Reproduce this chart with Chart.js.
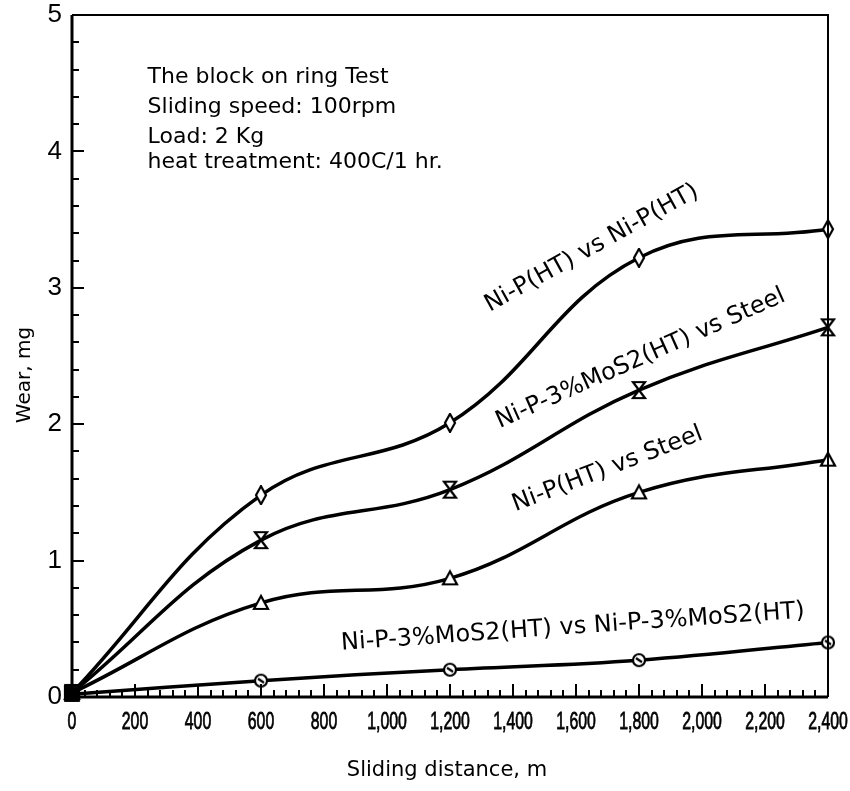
<!DOCTYPE html>
<html>
<head>
<meta charset="utf-8">
<script src="https://cdn.jsdelivr.net/npm/chart.js@4.4.0/dist/chart.umd.min.js"></script>
<style>
  html, body { margin: 0; padding: 0; background: #fff; }
  #wrap { width: 850px; height: 791px; position: relative; }
</style>
</head>
<body>
<div id="wrap"><canvas id="chart"></canvas></div>
<script>
// ====== Wear vs sliding distance (block on ring) ======
const distances = [0, 600, 1200, 1800, 2400];
const wearNiPvsNiP = [0.03, 1.48, 2.01, 3.22, 3.43];
const wearMoS2vsSteel = [0.03, 1.15, 1.52, 2.25, 2.71];
const wearNiPvsSteel = [0.03, 0.69, 0.87, 1.50, 1.74];
const wearMoS2vsMoS2 = [0.02, 0.12, 0.20, 0.27, 0.40];

const seriesNames = [
  'Ni-P(HT) vs Ni-P(HT)',
  'Ni-P-3%MoS2(HT) vs Steel',
  'Ni-P(HT) vs Steel',
  'Ni-P-3%MoS2(HT) vs Ni-P-3%MoS2(HT)'
];

const xTicks = [0, 200, 400, 600, 800, 1000, 1200, 1400, 1600, 1800, 2000, 2200, 2400];
const xTickLabels = ['0', '200', '400', '600', '800', '1,000', '1,200', '1,400', '1,600', '1,800', '2,000', '2,200', '2,400'];
const yTicks = [0, 1, 2, 3, 4, 5];

const notes = ['The block on ring Test', 'Sliding speed: 100rpm', 'Load: 2 Kg', 'heat treatment: 400C/1 hr.'];

// where the curve names sit (data coords) and their slant in degrees
const curveLabels = [
  { text: seriesNames[0], x: 1650, y: 3.29, angle: -29 },
  { text: seriesNames[1], x: 1805, y: 2.48, angle: -24 },
  { text: seriesNames[2], x: 1700, y: 1.67, angle: -21 },
  { text: seriesNames[3], x: 1590, y: 0.51, angle: -4 }
];
const noteX = 240;
const noteY = [4.54, 4.32, 4.10, 3.92];

function marker(kind) {
  const c = document.createElement('canvas');
  c.width = 18; c.height = 20;
  const g = c.getContext('2d');
  g.strokeStyle = '#000';
  g.fillStyle = '#fff';
  g.lineWidth = 2.2;
  g.beginPath();
  if (kind === 'diamond') {
    g.moveTo(9, 1); g.lineTo(14, 10); g.lineTo(9, 19); g.lineTo(4, 10); g.closePath();
  } else if (kind === 'hourglass') {
    g.moveTo(3, 2); g.lineTo(15, 2); g.lineTo(3, 18); g.lineTo(15, 18); g.closePath();
  } else if (kind === 'triangle') {
    g.moveTo(9, 3); g.lineTo(16, 16); g.lineTo(2, 16); g.closePath();
  } else if (kind === 'block') {
    g.fillStyle = '#000';
    g.rect(2, 3, 14, 14);
  } else {
    g.arc(9, 10, 6, 0, Math.PI * 2);
  }
  g.fill();
  g.stroke();
  if (kind === 'circle') {
    g.beginPath(); g.moveTo(6, 8); g.lineTo(12, 12); g.stroke();
  }
  return c;
}

function pts(vals) {
  return vals.map((v, i) => ({ x: distances[i], y: v }));
}

function serie(vals, kind, first) {
  const m = marker(kind);
  return {
    data: pts(vals),
    borderColor: '#000',
    borderWidth: 3.5,
    tension: 0.4,
    fill: false,
    pointStyle: vals.map((v, i) => (i === 0 && first ? marker(first) : m)),
    pointRadius: 7,
    clip: false
  };
}

const extras = {
  id: 'extras',
  afterDraw(chart) {
    const { ctx, chartArea: a, scales: { x, y } } = chart;
    ctx.save();
    ctx.strokeStyle = '#000';
    ctx.fillStyle = '#000';

    // frame
    ctx.lineWidth = 2;
    ctx.beginPath();
    ctx.moveTo(a.left, a.top); ctx.lineTo(a.right, a.top); ctx.lineTo(a.right, a.bottom);
    ctx.stroke();
    ctx.lineWidth = 3;
    ctx.beginPath();
    ctx.moveTo(a.left, a.top); ctx.lineTo(a.left, a.bottom); ctx.lineTo(a.right, a.bottom);
    ctx.stroke();

    // inward ticks
    ctx.lineWidth = 2;
    ctx.beginPath();
    for (let v = 0; v <= 5.0001; v += 0.2) {
      const py = Math.round(y.getPixelForValue(v));
      const len = Math.abs(v - Math.round(v)) < 0.01 ? 12 : 7;
      ctx.moveTo(a.left, py); ctx.lineTo(a.left + len, py);
    }
    for (let v = 0; v <= 2400; v += 40) {
      const px = Math.round(x.getPixelForValue(v));
      const len = v % 200 === 0 ? 13 : 7;
      ctx.moveTo(px, a.bottom); ctx.lineTo(px, a.bottom - len);
    }
    ctx.stroke();

    // x tick labels, tall and condensed like the scan
    ctx.font = '24px "Liberation Sans", Arial, sans-serif';
    ctx.textAlign = 'center';
    ctx.textBaseline = 'middle';
    ctx.lineWidth = 0.8;
    xTicks.forEach((v, i) => {
      ctx.save();
      ctx.translate(x.getPixelForValue(v), a.bottom + 25);
      ctx.scale(0.66, 1);
      ctx.fillText(xTickLabels[i], 0, 0);
      ctx.strokeText(xTickLabels[i], 0, 0);
      ctx.restore();
    });

    // notes
    ctx.font = '22px "DejaVu Sans"';
    ctx.textAlign = 'left';
    notes.forEach((t, i) => ctx.fillText(t, x.getPixelForValue(noteX), y.getPixelForValue(noteY[i])));

    // curve names
    ctx.font = '24px "DejaVu Sans"';
    ctx.textAlign = 'center';
    curveLabels.forEach(l => {
      ctx.save();
      ctx.translate(x.getPixelForValue(l.x), y.getPixelForValue(l.y));
      ctx.rotate(l.angle * Math.PI / 180);
      ctx.fillText(l.text, 0, 0);
      ctx.restore();
    });

    // axis titles
    ctx.font = '21px "DejaVu Sans"';
    ctx.fillText('Sliding distance, m', (a.left + a.right) / 2 - 3, 771);
    ctx.font = '20px "DejaVu Sans"';
    ctx.save();
    ctx.translate(25, 375);
    ctx.rotate(-Math.PI / 2);
    ctx.fillText('Wear, mg', 0, 0);
    ctx.restore();

    ctx.restore();
  }
};

new Chart(document.getElementById('chart'), {
  type: 'line',
  data: {
    datasets: [
      serie(wearNiPvsNiP, 'diamond', 'block'),
      serie(wearMoS2vsSteel, 'hourglass'),
      serie(wearNiPvsSteel, 'triangle'),
      serie(wearMoS2vsMoS2, 'circle')
    ]
  },
  options: {
    responsive: true,
    maintainAspectRatio: false,
    animation: false,
    layout: { padding: { left: 0, top: 15, right: 22, bottom: 0 } },
    plugins: { legend: { display: false }, tooltip: { enabled: false } },
    scales: {
      x: {
        type: 'linear',
        min: 0,
        max: 2400,
        afterFit(s) { s.height = 94; s.paddingLeft = 0; s.paddingRight = 0; },
        afterBuildTicks(s) { s.ticks = xTicks.map(v => ({ value: v })); },
        grid: { display: false, drawTicks: false },
        border: { display: false },
        ticks: { display: false }
      },
      y: {
        min: 0,
        max: 5,
        afterFit(s) { s.width = 72; s.paddingTop = 0; s.paddingBottom = 0; },
        afterBuildTicks(s) { s.ticks = yTicks.map(v => ({ value: v })); },
        grid: { display: false, drawTicks: false },
        border: { display: false },
        ticks: {
          color: '#000',
          padding: 10,
          font: { family: '"Liberation Sans", Arial, sans-serif', size: 26 }
        }
      }
    }
  },
  plugins: [extras]
});
</script>
</body>
</html>
